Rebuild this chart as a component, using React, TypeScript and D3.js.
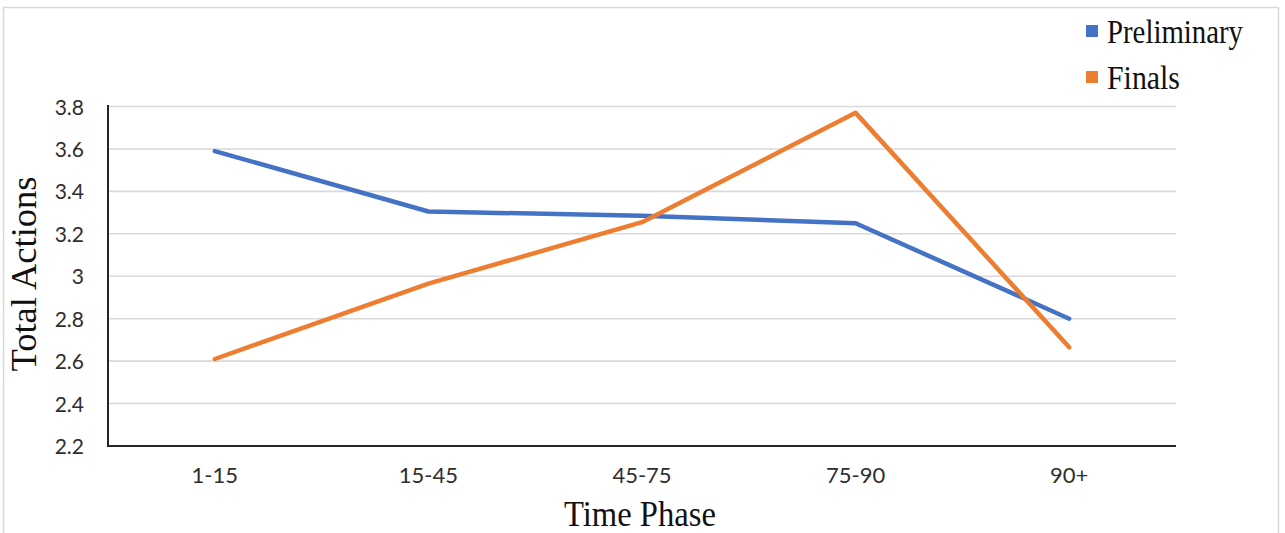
import React from "react";
import * as d3 from "d3";

const categories = ["1-15", "15-45", "45-75", "75-90", "90+"];
const preliminary = [3.59, 3.305, 3.285, 3.25, 2.8];
const finals = [2.61, 2.965, 3.255, 3.77, 2.665];
const yTicks = [2.2, 2.4, 2.6, 2.8, 3, 3.2, 3.4, 3.6, 3.8];
const seriesNames = ["Preliminary", "Finals"];
const seriesColors = ["#4472C4", "#ED7D31"];

const W = 1285;
const H = 533;
const left = 108;
const right = 1176;
const top = 106.5;
const bottom = 446;

export default function App() {
  const x = d3.scalePoint<string>().domain(categories).range([left, right]).padding(0.5);
  const y = d3.scaleLinear().domain([2.2, 3.8]).range([bottom, top]);
  const line = d3
    .line<number>()
    .x((_, i) => x(categories[i]) as number)
    .y((d) => y(d));
  const series = [preliminary, finals];

  return (
    <svg
      width={W}
      height={H}
      style={{ position: "absolute", left: 0, top: 0, background: "#fff" }}
    >
      <rect x={3.5} y={7.5} width={1275} height={540} fill="#fff" stroke="#d9d9d9" strokeWidth={1.5} />
      {yTicks.slice(1).map((t) => (
        <line key={t} x1={left} x2={right} y1={y(t)} y2={y(t)} stroke="#d9d9d9" strokeWidth={1.6} />
      ))}
      {yTicks.map((t) => (
        <text
          key={"l" + t}
          x={84}
          y={y(t) + 8}
          textAnchor="end"
          fontFamily="Lato, 'Open Sans', sans-serif"
          fontSize={21}
          fill="#2e2e2e"
        >
          {d3.format("~g")(t)}
        </text>
      ))}
      {categories.map((c) => (
        <text
          key={c}
          x={x(c) as number}
          y={483}
          textAnchor="middle"
          fontFamily="Lato, 'Open Sans', sans-serif"
          fontSize={22}
          fill="#2e2e2e"
        >
          {c}
        </text>
      ))}
      <line x1={left} x2={left} y1={top - 1.5} y2={bottom + 1} stroke="#262626" strokeWidth={2} />
      <line x1={left - 1} x2={right} y1={bottom} y2={bottom} stroke="#262626" strokeWidth={2} />
      {series.map((s, i) => (
        <path
          key={seriesNames[i]}
          d={line(s) as string}
          fill="none"
          stroke={seriesColors[i]}
          strokeWidth={4.5}
          strokeLinejoin="round"
          strokeLinecap="round"
        />
      ))}
      <text
        x={640}
        y={526}
        textAnchor="middle"
        fontFamily="'Liberation Serif', 'Times New Roman', serif"
        fontSize={36}
        textLength={152}
        lengthAdjust="spacingAndGlyphs"
        fill="#111"
      >
        Time Phase
      </text>
      <text
        transform={`translate(36, 274) rotate(-90)`}
        textAnchor="middle"
        fontFamily="'Liberation Serif', 'Times New Roman', serif"
        fontSize={35}
        textLength={195}
        lengthAdjust="spacingAndGlyphs"
        fill="#111"
      >
        Total Actions
      </text>
      {seriesNames.map((n, i) => (
        <g key={n} transform={`translate(1086, ${25 + i * 46})`}>
          <rect width={12} height={12} fill={seriesColors[i]} />
          <text
            x={21}
            y={18}
            fontFamily="'Liberation Serif', 'Times New Roman', serif"
            fontSize={33}
            textLength={i === 0 ? 136 : 73}
            lengthAdjust="spacingAndGlyphs"
            fill="#111"
          >
            {n}
          </text>
        </g>
      ))}
    </svg>
  );
}
